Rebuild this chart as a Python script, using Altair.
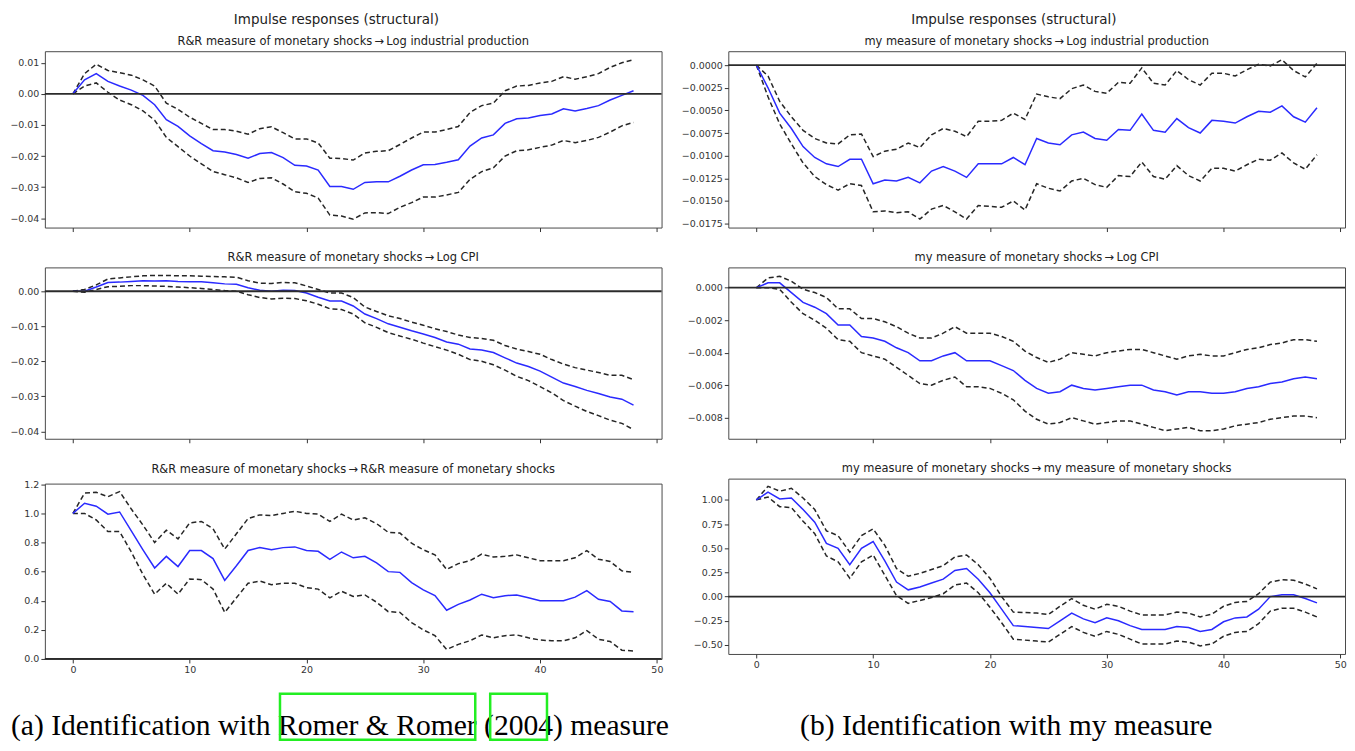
import altair as alt
import pandas as pd

HORIZON = list(range(49))
X_TICKS = [0, 10, 20, 30, 40, 50]

# Romer & Romer identification
RR_IP_IRF = [0.0, 0.0045, 0.0065, 0.0040, 0.0025, 0.0012, -0.0005, -0.0035, -0.0083, -0.0105,
             -0.0135, -0.0160, -0.0183, -0.0187, -0.0195, -0.0207, -0.0192, -0.0189, -0.0205, -0.0230,
             -0.0232, -0.0245, -0.0298, -0.0298, -0.0307, -0.0285, -0.0283, -0.0283, -0.0265, -0.0245,
             -0.0228, -0.0227, -0.0220, -0.0212, -0.0168, -0.0142, -0.0132, -0.0095, -0.0080, -0.0078,
             -0.0070, -0.0065, -0.0048, -0.0055, -0.0047, -0.0038, -0.0020, -0.0005, 0.0010]
RR_IP_UPPER = [0.0, 0.0065, 0.0095, 0.0075, 0.0068, 0.0060, 0.0045, 0.0025, -0.0030, -0.0050,
               -0.0075, -0.0095, -0.0115, -0.0115, -0.0120, -0.0130, -0.0112, -0.0106, -0.0125, -0.0145,
               -0.0145, -0.0158, -0.0207, -0.0208, -0.0213, -0.0190, -0.0185, -0.0183, -0.0163, -0.0142,
               -0.0123, -0.0123, -0.0115, -0.0105, -0.0060, -0.0038, -0.0030, 0.0010, 0.0025, 0.0027,
               0.0035, 0.0040, 0.0055, 0.0047, 0.0055, 0.0065, 0.0085, 0.0100, 0.0110]
RR_IP_LOWER = [0.0, 0.0025, 0.0035, 0.0005, -0.0020, -0.0035, -0.0055, -0.0085, -0.0140, -0.0170,
               -0.0200, -0.0225, -0.0250, -0.0260, -0.0270, -0.0285, -0.0272, -0.0270, -0.0290, -0.0315,
               -0.0320, -0.0335, -0.0390, -0.0393, -0.0403, -0.0383, -0.0382, -0.0385, -0.0365, -0.0350,
               -0.0332, -0.0332, -0.0325, -0.0317, -0.0275, -0.0250, -0.0238, -0.0200, -0.0183, -0.0180,
               -0.0172, -0.0165, -0.0150, -0.0157, -0.0150, -0.0140, -0.0123, -0.0103, -0.0092]

RR_CPI_IRF = [0.0, 0.0, 0.0012, 0.0025, 0.0026, 0.0028, 0.0030, 0.0029, 0.0030, 0.0028,
              0.0027, 0.0027, 0.0024, 0.0021, 0.0020, 0.0010, 0.0003, 0.0, 0.0003, 0.0002,
              -0.0005, -0.0017, -0.0028, -0.0028, -0.0042, -0.0065, -0.0078, -0.0093, -0.0103, -0.0113,
              -0.0122, -0.0132, -0.0145, -0.0151, -0.0165, -0.0168, -0.0175, -0.0190, -0.0205, -0.0215,
              -0.0228, -0.0245, -0.0262, -0.0272, -0.0283, -0.0292, -0.0302, -0.0308, -0.0325]
RR_CPI_UPPER = [0.0, 0.0005, 0.0018, 0.0035, 0.0038, 0.0041, 0.0044, 0.0045, 0.0045, 0.0044,
                0.0044, 0.0043, 0.0042, 0.0041, 0.0040, 0.0030, 0.0023, 0.0022, 0.0025, 0.0024,
                0.0015, 0.0005, -0.0005, -0.0005, -0.0018, -0.0045, -0.0058, -0.0070, -0.0078, -0.0088,
                -0.0097, -0.0107, -0.0115, -0.0125, -0.0132, -0.0135, -0.0140, -0.0155, -0.0165, -0.0172,
                -0.0180, -0.0195, -0.0208, -0.0218, -0.0225, -0.0232, -0.0240, -0.0240, -0.0252]
RR_CPI_LOWER = [0.0, -0.0003, 0.0005, 0.0013, 0.0014, 0.0016, 0.0016, 0.0015, 0.0014, 0.0012,
                0.0010, 0.0008, 0.0005, 0.0002, 0.0, -0.0010, -0.0018, -0.0022, -0.0020, -0.0021,
                -0.0027, -0.0037, -0.0050, -0.0052, -0.0065, -0.0090, -0.0103, -0.0118, -0.0128, -0.0137,
                -0.0148, -0.0158, -0.0168, -0.0180, -0.0195, -0.0200, -0.0210, -0.0225, -0.0243, -0.0255,
                -0.0272, -0.0290, -0.0312, -0.0328, -0.0343, -0.0355, -0.0368, -0.0377, -0.0395]

RR_RR_IRF = [1.0, 1.07, 1.05, 0.995, 1.01, 0.88, 0.75, 0.625, 0.705, 0.635,
             0.745, 0.745, 0.69, 0.54, 0.64, 0.745, 0.765, 0.75, 0.765, 0.77,
             0.745, 0.74, 0.685, 0.735, 0.695, 0.705, 0.66, 0.60, 0.595, 0.525,
             0.475, 0.435, 0.335, 0.375, 0.405, 0.445, 0.42, 0.435, 0.44, 0.42,
             0.40, 0.40, 0.40, 0.425, 0.47, 0.41, 0.395, 0.33, 0.325]
RR_RR_UPPER = [1.0, 1.14, 1.145, 1.115, 1.15, 1.03, 0.92, 0.80, 0.885, 0.825,
               0.935, 0.945, 0.895, 0.755, 0.86, 0.965, 0.99, 0.985, 1.0, 1.015,
               1.0, 0.995, 0.945, 0.995, 0.955, 0.97, 0.93, 0.87, 0.865, 0.795,
               0.75, 0.715, 0.615, 0.655, 0.675, 0.72, 0.70, 0.705, 0.715, 0.695,
               0.675, 0.675, 0.675, 0.695, 0.745, 0.685, 0.67, 0.605, 0.595]
RR_RR_LOWER = [1.0, 1.0, 0.955, 0.875, 0.875, 0.735, 0.58, 0.445, 0.52, 0.445,
               0.55, 0.545, 0.48, 0.32, 0.42, 0.52, 0.535, 0.51, 0.52, 0.52,
               0.49, 0.48, 0.42, 0.465, 0.43, 0.44, 0.39, 0.325, 0.32, 0.25,
               0.20, 0.16, 0.065, 0.10, 0.125, 0.165, 0.145, 0.16, 0.165, 0.145,
               0.13, 0.125, 0.125, 0.145, 0.195, 0.135, 0.12, 0.06, 0.055]

# own-measure identification
MY_IP_IRF = [0.0, -0.0025, -0.0053, -0.0070, -0.0090, -0.0102, -0.0109, -0.0112, -0.0104, -0.0104,
             -0.0131, -0.0127, -0.0128, -0.0124, -0.0130, -0.0117, -0.0112, -0.0117, -0.0124, -0.0109,
             -0.0109, -0.0109, -0.0102, -0.0110, -0.0081, -0.0086, -0.0088, -0.0077, -0.0074, -0.0081,
             -0.0083, -0.0071, -0.0072, -0.0054, -0.0072, -0.0074, -0.0059, -0.0069, -0.0075, -0.0061,
             -0.0062, -0.0064, -0.0057, -0.0051, -0.0052, -0.0045, -0.0057, -0.0063, -0.0047]
MY_IP_UPPER = [0.0, -0.0012, -0.0040, -0.0057, -0.0072, -0.0081, -0.0086, -0.0087, -0.0077, -0.0076,
               -0.0101, -0.0095, -0.0093, -0.0086, -0.0091, -0.0077, -0.0070, -0.0073, -0.0079, -0.0062,
               -0.0062, -0.0061, -0.0053, -0.0060, -0.0032, -0.0035, -0.0037, -0.0026, -0.0022, -0.0029,
               -0.0031, -0.0019, -0.0020, -0.0003, -0.0020, -0.0022, -0.0006, -0.0016, -0.0022, -0.0009,
               -0.0009, -0.0012, -0.0005, 0.0001, -0.0001, 0.0006, -0.0006, -0.0013, 0.0002]
MY_IP_LOWER = [0.0, -0.0035, -0.0065, -0.0087, -0.0108, -0.0123, -0.0132, -0.0138, -0.0131, -0.0133,
               -0.0162, -0.0161, -0.0163, -0.0162, -0.0170, -0.0159, -0.0155, -0.0162, -0.0170, -0.0155,
               -0.0156, -0.0157, -0.0150, -0.0160, -0.0131, -0.0136, -0.0139, -0.0128, -0.0125, -0.0132,
               -0.0135, -0.0122, -0.0123, -0.0107, -0.0123, -0.0126, -0.0111, -0.0122, -0.0128, -0.0114,
               -0.0114, -0.0117, -0.0110, -0.0104, -0.0105, -0.0097, -0.0108, -0.0115, -0.0099]

MY_CPI_IRF = [0.0, 0.0003, 0.0003, -0.0003, -0.0009, -0.0012, -0.0016, -0.0023, -0.0023, -0.0030,
              -0.0031, -0.0033, -0.0037, -0.0040, -0.0045, -0.0045, -0.0042, -0.0040, -0.0045, -0.0045,
              -0.0045, -0.0048, -0.0051, -0.0057, -0.0062, -0.0065, -0.0064, -0.0060, -0.0062, -0.0063,
              -0.0062, -0.0061, -0.0060, -0.0060, -0.0063, -0.0064, -0.0066, -0.0064, -0.0064, -0.0065,
              -0.0065, -0.0064, -0.0062, -0.0061, -0.0059, -0.0058, -0.0056, -0.0055, -0.0056]
MY_CPI_UPPER = [0.0, 0.0006, 0.0007, 0.0004, -0.0001, -0.0003, -0.0006, -0.0013, -0.0013, -0.0019,
                -0.0019, -0.0021, -0.0024, -0.0028, -0.0031, -0.0031, -0.0028, -0.0024, -0.0028, -0.0028,
                -0.0028, -0.0030, -0.0033, -0.0039, -0.0043, -0.0046, -0.0044, -0.0040, -0.0041, -0.0042,
                -0.0040, -0.0039, -0.0038, -0.0038, -0.0040, -0.0042, -0.0044, -0.0042, -0.0041, -0.0042,
                -0.0042, -0.0040, -0.0038, -0.0037, -0.0035, -0.0034, -0.0032, -0.0032, -0.0033]
MY_CPI_LOWER = [0.0, 0.0, -0.0001, -0.0009, -0.0016, -0.0020, -0.0025, -0.0032, -0.0033, -0.0040,
                -0.0042, -0.0044, -0.0049, -0.0054, -0.0059, -0.0060, -0.0057, -0.0055, -0.0061, -0.0061,
                -0.0062, -0.0065, -0.0069, -0.0076, -0.0081, -0.0084, -0.0083, -0.0080, -0.0082, -0.0084,
                -0.0083, -0.0082, -0.0082, -0.0084, -0.0086, -0.0088, -0.0087, -0.0086, -0.0088, -0.0088,
                -0.0087, -0.0085, -0.0084, -0.0083, -0.0081, -0.0080, -0.0079, -0.0079, -0.0080]

MY_MY_IRF = [1.0, 1.08, 1.01, 1.02, 0.90, 0.77, 0.55, 0.50, 0.33, 0.50,
             0.57, 0.37, 0.15, 0.07, 0.10, 0.14, 0.18, 0.27, 0.29, 0.18,
             0.04, -0.13, -0.30, -0.31, -0.32, -0.33, -0.25, -0.17, -0.23, -0.27,
             -0.22, -0.25, -0.30, -0.34, -0.34, -0.34, -0.31, -0.32, -0.36, -0.34,
             -0.26, -0.22, -0.21, -0.13, 0.0, 0.02, 0.02, -0.02, -0.065]
MY_MY_UPPER = [1.0, 1.14, 1.09, 1.12, 1.02, 0.90, 0.68, 0.63, 0.46, 0.63,
               0.70, 0.53, 0.29, 0.21, 0.24, 0.28, 0.32, 0.41, 0.43, 0.33,
               0.19, 0.0, -0.16, -0.165, -0.17, -0.185, -0.10, -0.02, -0.09, -0.13,
               -0.08, -0.10, -0.15, -0.19, -0.19, -0.19, -0.16, -0.17, -0.21, -0.18,
               -0.10, -0.06, -0.05, 0.03, 0.15, 0.175, 0.17, 0.13, 0.08]
MY_MY_LOWER = [1.0, 1.03, 0.93, 0.92, 0.78, 0.65, 0.42, 0.36, 0.19, 0.36,
               0.43, 0.22, 0.01, -0.07, -0.04, -0.01, 0.03, 0.12, 0.14, 0.04,
               -0.11, -0.27, -0.44, -0.45, -0.46, -0.47, -0.39, -0.31, -0.37, -0.41,
               -0.36, -0.39, -0.44, -0.49, -0.49, -0.49, -0.46, -0.47, -0.51, -0.49,
               -0.41, -0.37, -0.36, -0.28, -0.15, -0.12, -0.12, -0.16, -0.21]

ARROW = "\u2009\u2192\u2009"
SUPTITLE = "Impulse responses (structural)"
CAPTION_A = "(a) Identification with Romer & Romer (2004) measure"
CAPTION_B = "(b) Identification with my measure"

BLUE = "#2a2aff"
DASH = "#262626"
PANEL_W = 619
HEIGHTS = [177, 172, 176]


def panel(irf, lower, upper, title, y_domain, y_ticks, y_format, height, show_x=False):
    df = pd.DataFrame({"h": HORIZON, "irf": irf, "lower": lower, "upper": upper})
    x = alt.X(
        "h:Q",
        title=None,
        scale=alt.Scale(domain=[-2.4, 50.4], nice=False, zero=False),
        axis=alt.Axis(values=X_TICKS, labels=show_x, grid=False),
    )
    y_scale = alt.Scale(domain=y_domain, nice=False, zero=False)
    y_axis = alt.Axis(values=y_ticks, format=y_format, grid=False)

    def y(field):
        return alt.Y(f"{field}:Q", title=None, scale=y_scale, axis=y_axis)

    base = alt.Chart(df)
    bands = [
        base.mark_line(color=DASH, strokeDash=[5, 3], strokeWidth=1.5).encode(x=x, y=y(f))
        for f in ("lower", "upper")
    ]
    line = base.mark_line(color=BLUE, strokeWidth=1.5).encode(x=x, y=y("irf"))
    zero = (
        alt.Chart(pd.DataFrame({"zero": [0.0]}))
        .mark_rule(color="#2b2b2b", strokeWidth=1.8)
        .encode(y=y("zero"))
    )
    return alt.layer(*bands, line, zero).properties(
        width=PANEL_W, height=height, title=alt.TitleParams(title, fontSize=11.5, offset=4)
    )


def column(shock, panels):
    charts = []
    for i, (irf, lo, hi, resp, dom, ticks, fmt) in enumerate(panels):
        charts.append(
            panel(irf, lo, hi, f"{shock}{ARROW}{resp}", dom, ticks, fmt, HEIGHTS[i], show_x=(i == 2))
        )
    return alt.vconcat(
        *charts,
        spacing=19,
        title=alt.TitleParams(SUPTITLE, fontSize=13.5, offset=9, anchor="middle"),
    )


rr = "R&R measure of monetary shocks"
my = "my measure of monetary shocks"

left = column(rr, [
    (RR_IP_IRF, RR_IP_LOWER, RR_IP_UPPER, "Log industrial production", [-0.043, 0.0137],
     [-0.04, -0.03, -0.02, -0.01, 0.0, 0.01], ".2f"),
    (RR_CPI_IRF, RR_CPI_LOWER, RR_CPI_UPPER, "Log CPI", [-0.0421, 0.0068],
     [-0.04, -0.03, -0.02, -0.01, 0.0], ".2f"),
    (RR_RR_IRF, RR_RR_LOWER, RR_RR_UPPER, rr, [0.0, 1.205],
     [0.0, 0.2, 0.4, 0.6, 0.8, 1.0, 1.2], ".1f"),
])

right = column(my, [
    (MY_IP_IRF, MY_IP_LOWER, MY_IP_UPPER, "Log industrial production", [-0.01794, 0.00154],
     [-0.0175, -0.015, -0.0125, -0.01, -0.0075, -0.005, -0.0025, 0.0], ".4f"),
    (MY_CPI_IRF, MY_CPI_LOWER, MY_CPI_UPPER, "Log CPI", [-0.0093, 0.00125],
     [-0.008, -0.006, -0.004, -0.002, 0.0], ".3f"),
    (MY_MY_IRF, MY_MY_LOWER, MY_MY_UPPER, my, [-0.593, 1.22],
     [-0.5, -0.25, 0.0, 0.25, 0.5, 0.75, 1.0], ".2f"),
])

one = pd.DataFrame({"k": [0]})
cap_style = dict(font="Liberation Serif", fontSize=29.7, baseline="middle", color="black")
box_style = dict(fillOpacity=0, stroke="#22ee22", strokeWidth=2.5)
caption = alt.layer(
    alt.Chart(one).mark_text(align="left", **cap_style).encode(
        x=alt.value(-34), y=alt.value(50), text=alt.value(CAPTION_A)),
    alt.Chart(one).mark_text(align="center", **cap_style).encode(
        x=alt.value(965), y=alt.value(50), text=alt.value(CAPTION_B)),
    alt.Chart(one).mark_rect(**box_style).encode(
        x=alt.value(236), x2=alt.value(432), y=alt.value(18), y2=alt.value(64)),
    alt.Chart(one).mark_rect(**box_style).encode(
        x=alt.value(447), x2=alt.value(504), y=alt.value(18), y2=alt.value(64)),
).properties(width=1290, height=64, view=alt.ViewBackground(stroke="transparent"))

chart = (
    alt.vconcat(alt.hconcat(left, right, spacing=17), caption, spacing=0)
    .properties(padding={"left": 1, "top": 3, "right": 0, "bottom": 0})
    .configure_view(stroke="#4a4a4a", strokeWidth=1)
    .configure_axis(
        domain=False,
        tickColor="#333333",
        tickSize=4,
        labelFontSize=9.5,
        labelColor="#333333",
        labelFont="DejaVu Sans",
        labelPadding=2,
    )
    .configure_title(font="DejaVu Sans", fontWeight="normal", color="#222222")
)

chart.save("out.html", embed_options={"renderer": "svg", "actions": False})
